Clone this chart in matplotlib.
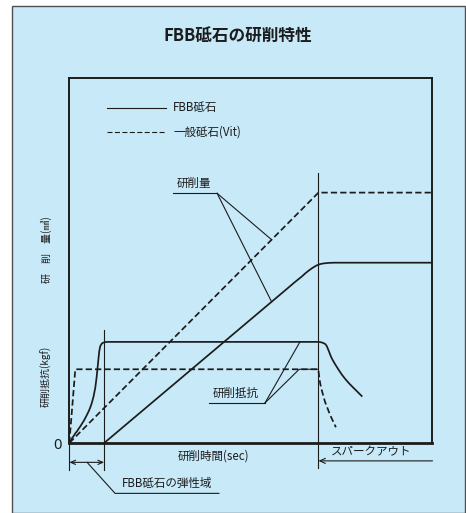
import numpy as np
import matplotlib
matplotlib.use("Agg")
import matplotlib.pyplot as plt
from matplotlib.patches import Rectangle

plt.rcParams['font.family'] = ['Noto Sans CJK JP', 'DejaVu Sans']

# ---- data (schematic units: time 0-100, value 0-100) ----
elastic_end = 9.6      # end of FBB elastic region
spark_out = 68.6       # start of spark-out

# grinding amount
vit_amount_t = [0, 68.6, 100]
vit_amount_v = [0, 68.6, 68.6]
fbb_amount_t = [9.6, 60, 62, 63, 64, 65, 66, 67, 68, 69, 70, 71.5, 73, 100]
fbb_amount_v = [0, 42.3, 44.0, 44.8, 45.6, 46.5, 47.3, 48.0, 48.6, 49.0, 49.2, 49.35, 49.4, 49.4]

# grinding resistance (FBB)
fbb_force_t = [0, 0.38, 0.74, 1.20, 1.66, 2.12, 2.58, 3.04, 3.50, 3.96, 4.41,
               4.87, 5.33, 5.79, 6.25, 6.71, 7.17, 7.54, 7.81, 8.09, 8.27,
               8.54, 9.00, 9.64, 10.38,
               68.57, 69.30, 69.94, 70.49, 70.86, 71.23, 71.59, 72.05, 72.51,
               73.15, 74.07, 74.99, 75.91, 77.10, 78.20, 79.40, 80.50]
fbb_force_v = [0, 0.64, 1.28, 1.92, 2.65, 3.20, 3.93, 4.57, 5.30, 6.03, 6.85,
               7.76, 8.68, 9.77, 11.14, 12.88, 15.25, 18.17, 20.91, 23.65, 25.30,
               26.58, 27.31, 27.6, 27.7,
               27.7, 27.6, 27.4, 27.1, 26.6, 25.75, 24.84, 23.65, 22.74,
               21.64, 20.18, 18.81, 17.62, 16.26, 15.16, 13.97, 12.88]
# grinding resistance (Vit)
vit_force_t = [0, 1.65, 68.56, 68.8, 69.1, 69.5, 70.4, 71.8, 73.4]
vit_force_v = [0, 20.2, 20.2, 18.2, 16.2, 14.5, 11.3, 7.7, 4.3]

title = "FBB砥石の研削特性"
legend_labels = ["FBB砥石", "一般砥石(Vit)"]
ylabel_amount = "研　削　量(㎣)"
ylabel_force = "研削抵抗(kgf)"
xlabel = "研削時間(sec)"

W, H = 466, 513
fig = plt.figure(figsize=(W / 100, H / 100), dpi=100)
fig.patch.set_facecolor('white')
bg = '#c8e9f8'
ink = '#1c1c1c'
fig.patches.append(Rectangle((12 / W, 0), (464.5 - 12) / W, (H - 6) / H,
                             transform=fig.transFigure, facecolor=bg,
                             edgecolor='#505050', lw=1.0, zorder=-5))

ax = fig.add_axes([69.3 / W, (H - 443) / H, 363.2 / W, 365 / H])
ax.set_zorder(2)
ax.set_facecolor('none')
ax.set_xlim(0, 100)
ax.set_ylim(0, 100)
ax.set_xticks([])
ax.set_yticks([])
for s in ax.spines.values():
    s.set_color(ink)
    s.set_linewidth(1.4)
ax.spines['bottom'].set_linewidth(2.0)

lw = 1.25
dash = (3.6, 1.8)
thin = 0.8

# data curves
ax.plot(vit_amount_t, vit_amount_v, color=ink, lw=lw, ls=(0, dash))
ax.plot(fbb_amount_t, fbb_amount_v, color=ink, lw=lw, solid_joinstyle='round')
ax.plot(fbb_force_t, fbb_force_v, color=ink, lw=lw, solid_joinstyle='round')
ax.plot(vit_force_t, vit_force_v, color=ink, lw=lw, ls=(0, dash))

# reference verticals
ax.plot([elastic_end, elastic_end], [31, -7.4], color=ink, lw=thin, clip_on=False)
ax.plot([spark_out, spark_out], [73.9, -6.8], color=ink, lw=thin, clip_on=False)
ax.plot([0, 0], [0, -7.4], color=ink, lw=thin, clip_on=False)

# legend (manual)
ax.plot([10.4, 26.6], [91.8, 91.8], color=ink, lw=thin)
ax.plot([10.4, 26.6], [85.3, 85.3], color=ink, lw=thin, ls=(0, (4.5, 2.2)))
ax.text(28.6, 91.8, legend_labels[0], fontsize=8.3, va='center', ha='left', color=ink)
ax.text(28.6, 85.3, legend_labels[1], fontsize=8.3, va='center', ha='left', color=ink)

# 研削量 leader
tl = 55.7
ax.plot([28.6, 40.7], [68.4, 68.4], color=ink, lw=thin)
ax.plot([40.7, tl], [68.4, np.interp(tl, vit_amount_t, vit_amount_v)], color=ink, lw=thin)
ax.plot([40.7, tl], [68.4, np.interp(tl, fbb_amount_t, fbb_amount_v)], color=ink, lw=thin)
ax.text(34.3, 69.3, "研削量", fontsize=8.3, ha='center', va='bottom', color=ink)

# 研削抵抗 leader
ax.plot([38.5, 53.9], [11.0, 11.0], color=ink, lw=thin)
ax.plot([53.9, 63.5], [11.0, 27.7], color=ink, lw=thin)
ax.plot([53.9, 63.3, spark_out], [11.0, 20.2, 20.2], color=ink, lw=thin)
ax.text(45.9, 11.8, "研削抵抗", fontsize=8.3, ha='center', va='bottom', color=ink)

# elastic region annotation
ax.annotate("", xy=(0, -5.3), xytext=(elastic_end, -5.3),
            arrowprops=dict(arrowstyle='<->,head_length=0.35,head_width=0.15',
                            color=ink, lw=thin, shrinkA=0, shrinkB=0),
            annotation_clip=False)
ax.plot([4.9, 12.6, 41.2], [-5.3, -13.8, -13.8], color=ink, lw=thin, clip_on=False)
ax.text(27.0, -11.2, "FBB砥石の弾性域", fontsize=8.3, ha='center', va='center', color=ink)

# spark-out annotation
ax.annotate("", xy=(spark_out, -4.9), xytext=(100, -4.9),
            arrowprops=dict(arrowstyle='->,head_length=0.4,head_width=0.18',
                            color=ink, lw=thin, shrinkA=0, shrinkB=0),
            annotation_clip=False)
ax.text(83.0, -2.3, "スパークアウト", fontsize=8.3, ha='center', va='center', color=ink)

ax.text(39.6, -3.6, xlabel, fontsize=8.3, ha='center', va='center', color=ink)
ax.text(-3.3, -0.8, "0", fontsize=10.5, ha='center', va='center', color=ink,
        family=['Noto Sans', 'DejaVu Sans'])

# y labels
fig.text(46.5 / W, 1 - 250 / H, ylabel_amount, fontsize=7.2, rotation=90,
         ha='center', va='center', color=ink)
fig.text(46.5 / W, 1 - 376 / H, ylabel_force, fontsize=7.2, rotation=90,
         ha='center', va='center', color=ink)

fig.text(237.5 / W, 1 - 37 / H, title, fontsize=12, fontweight='bold',
         ha='center', va='center', color=ink)

fig.savefig('out.png', dpi=100, facecolor=fig.get_facecolor())
